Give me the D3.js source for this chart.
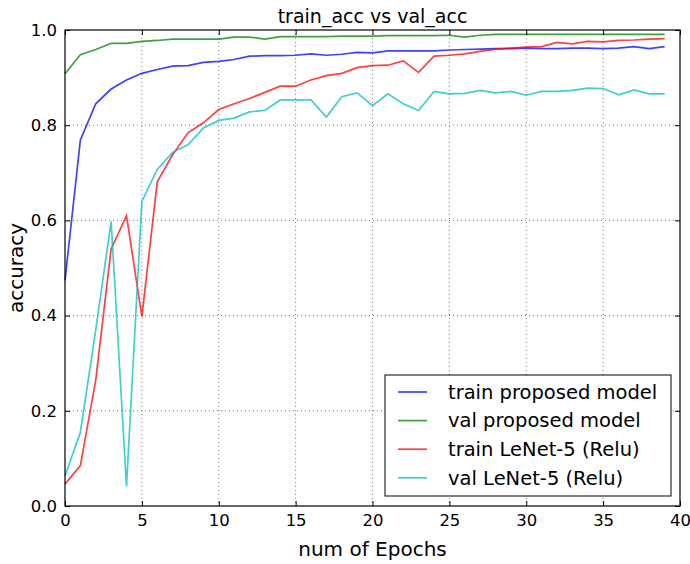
<!DOCTYPE html>
<html>
<head>
<meta charset="utf-8">
<script src="https://cdn.jsdelivr.net/npm/d3@7"></script>
<style>
  body { margin: 0; background: #fff; }
  svg text { font-family: "DejaVu Sans", sans-serif; fill: #000; }
</style>
</head>
<body>
<div id="chart-area"></div>
<script>
// values, one per epoch (0..39)
var epochs = d3.range(0, 40);

var trainProposed = [0.474, 0.769, 0.845, 0.876, 0.895, 0.909, 0.917, 0.924, 0.925, 0.932,
    0.934, 0.938, 0.945, 0.946, 0.946, 0.947, 0.950, 0.947, 0.949, 0.953,
    0.952, 0.956, 0.956, 0.956, 0.956, 0.958, 0.959, 0.960, 0.961, 0.961,
    0.962, 0.961, 0.961, 0.962, 0.962, 0.961, 0.962, 0.965, 0.961, 0.965];

var valProposed = [0.908, 0.948, 0.959, 0.972, 0.972, 0.976, 0.978, 0.981, 0.981, 0.981,
    0.981, 0.985, 0.985, 0.981, 0.986, 0.986, 0.986, 0.986, 0.987, 0.987,
    0.987, 0.988, 0.988, 0.988, 0.988, 0.989, 0.985, 0.989, 0.991, 0.991,
    0.991, 0.991, 0.991, 0.991, 0.991, 0.991, 0.991, 0.991, 0.991, 0.991];

var trainLeNet = [0.046, 0.085, 0.265, 0.540, 0.610, 0.398, 0.681, 0.738, 0.784, 0.805,
    0.833, 0.845, 0.856, 0.869, 0.882, 0.882, 0.895, 0.904, 0.909, 0.921,
    0.925, 0.926, 0.935, 0.911, 0.945, 0.947, 0.950, 0.955, 0.960, 0.962,
    0.964, 0.965, 0.974, 0.971, 0.976, 0.975, 0.978, 0.979, 0.981, 0.982];

var valLeNet = [0.063, 0.155, 0.370, 0.598, 0.041, 0.640, 0.707, 0.743, 0.759, 0.794,
    0.810, 0.815, 0.828, 0.831, 0.853, 0.853, 0.853, 0.817, 0.860, 0.868,
    0.841, 0.866, 0.845, 0.831, 0.871, 0.866, 0.867, 0.873, 0.868, 0.871,
    0.863, 0.871, 0.871, 0.873, 0.878, 0.877, 0.864, 0.874, 0.866, 0.866];

var seriesNames = ["train proposed model", "val proposed model", "train LeNet-5 (Relu)", "val LeNet-5 (Relu)"];
var seriesColors = ["#0000ff", "#008000", "#ff0000", "#00bfbf"];
var seriesValues = [trainProposed, valProposed, trainLeNet, valLeNet];

var xTicks = [0, 5, 10, 15, 20, 25, 30, 35, 40];
var yTicks = [0.0, 0.2, 0.4, 0.6, 0.8, 1.0];

var margin = { left: 65, right: 10, top: 30, bottom: 58 },
    width = 690 - margin.left - margin.right,
    height = 564 - margin.top - margin.bottom;

var svg = d3.select("#chart-area")
    .append("svg")
    .attr("width", 690)
    .attr("height", 564);

var g = svg.append("g")
    .attr("transform", "translate(" + margin.left + "," + margin.top + ")");

var x = d3.scaleLinear().domain([0, 40]).range([0, width]);
var y = d3.scaleLinear().domain([0, 1]).range([height, 0]);

// dotted grid
g.append("g")
    .selectAll("line")
    .data(xTicks.slice(1, -1))
    .enter().append("line")
        .attr("x1", function(d) { return x(d); })
        .attr("x2", function(d) { return x(d); })
        .attr("y1", 0).attr("y2", height)
        .attr("stroke", "#777").attr("stroke-width", 1)
        .attr("stroke-dasharray", "1,3");

g.append("g")
    .selectAll("line")
    .data(yTicks.slice(1, -1))
    .enter().append("line")
        .attr("y1", function(d) { return y(d); })
        .attr("y2", function(d) { return y(d); })
        .attr("x1", 0).attr("x2", width)
        .attr("stroke", "#777").attr("stroke-width", 1)
        .attr("stroke-dasharray", "1,3");

// lines
var line = d3.line()
    .x(function(d, i) { return x(epochs[i]); })
    .y(function(d) { return y(d); });

g.append("g")
    .selectAll("path")
    .data(seriesValues)
    .enter().append("path")
        .attr("d", line)
        .attr("fill", "none")
        .attr("stroke", function(d, i) { return seriesColors[i]; })
        .attr("stroke-opacity", 0.75)
        .attr("stroke-width", 1.7);

// axes, ticks pointing inward like matplotlib classic
g.append("g")
    .attr("transform", "translate(0," + height + ")")
    .call(d3.axisBottom(x).tickValues(xTicks).tickSizeInner(-5).tickSizeOuter(0).tickPadding(8));
g.append("g")
    .call(d3.axisLeft(y).tickValues(yTicks).tickFormat(d3.format(".1f")).tickSizeInner(-5).tickSizeOuter(0).tickPadding(8));
g.append("g")
    .call(d3.axisTop(x).tickValues(xTicks).tickSizeInner(-5).tickSizeOuter(0).tickFormat(""));
g.append("g")
    .attr("transform", "translate(" + width + ",0)")
    .call(d3.axisRight(y).tickValues(yTicks).tickSizeInner(-5).tickSizeOuter(0).tickFormat(""));

g.selectAll(".domain").remove();
g.selectAll(".tick line").attr("stroke", "#000");
g.selectAll(".tick text").style("font-size", "16.5px").style("font-family", "DejaVu Sans, sans-serif");

g.append("rect")
    .attr("width", width).attr("height", height)
    .attr("fill", "none").attr("stroke", "#000").attr("stroke-width", 1.2);

// titles
svg.append("text")
    .attr("x", margin.left + width / 2).attr("y", 23)
    .attr("text-anchor", "middle")
    .style("font-size", "19px")
    .text("train_acc vs val_acc");

svg.append("text")
    .attr("x", margin.left + width / 2).attr("y", 556)
    .attr("text-anchor", "middle")
    .style("font-size", "20px")
    .text("num of Epochs");

svg.append("text")
    .attr("transform", "translate(23," + (margin.top + height / 2) + ") rotate(-90)")
    .attr("text-anchor", "middle")
    .style("font-size", "20px")
    .text("accuracy");

// legend
var legend = svg.append("g")
    .attr("transform", "translate(385,375)");

legend.append("rect")
    .attr("width", 286).attr("height", 121)
    .attr("fill", "#fff").attr("stroke", "#000").attr("stroke-width", 1);

var item = legend.selectAll(".item")
    .data(seriesNames)
    .enter().append("g")
        .attr("class", "item")
        .attr("transform", function(d, i) { return "translate(0," + (17 + i * 28.6) + ")"; });

item.append("line")
    .attr("x1", 13).attr("x2", 42)
    .attr("stroke", function(d, i) { return seriesColors[i]; })
    .attr("stroke-opacity", 0.75)
    .attr("stroke-width", 1.7);

item.append("text")
    .attr("x", 63).attr("dy", "0.35em")
    .style("font-size", "19.5px")
    .text(function(d) { return d; });
</script>
</body>
</html>
